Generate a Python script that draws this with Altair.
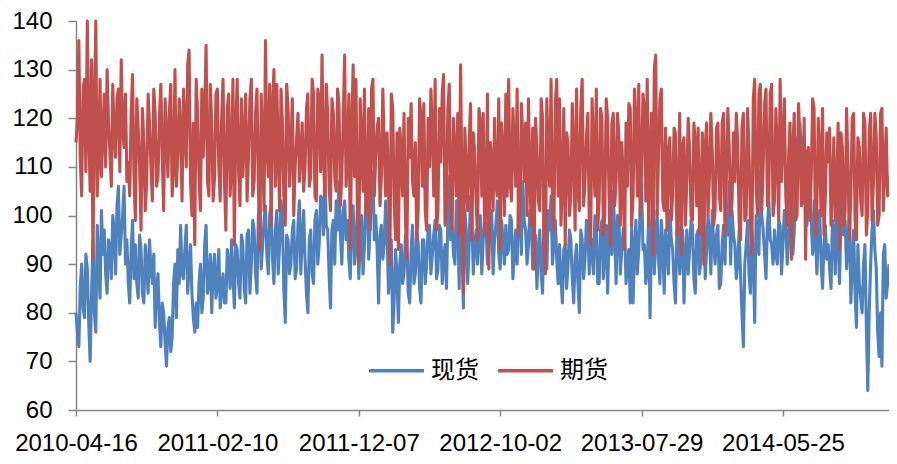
import altair as alt
import pandas as pd

START = "2010-04-16"
STEP_DAYS = 3

# 期货 (futures): readings at every other point (0, 2, 4, ...)
futures_a = [
    115,136,104,128,140,105,91,140,112,108,125,130,113,127,112,126,132,114,107,
    104,129,99,118,97,115,107,119,103,121,108,127,101,117,121,104,130,112,118,
    126,110,134,100,94,121,101,112,135,104,119,108,126,103,128,97,125,111,94,
    128,102,108,125,112,128,107,126,93,114,136,108,98,130,127,101,119,98,122,
    114,100,116,107,119,110,125,108,125,103,124,133,104,121,101,121,105,123,108,
    133,112,93,131,128,90,116,126,105,97,128,112,120,108,114,117,90,122,95,
    93,113,121,91,112,107,115,101,120,123,97,110,118,128,101,111,129,102,127,
    97,113,121,131,84,110,114,95,113,95,119,121,103,89,112,120,104,93,113,
    125,128,103,114,126,100,116,119,124,98,89,114,101,120,88,112,128,97,128,
    124,107,94,115,104,113,126,101,128,107,121,94,113,126,103,120,100,120,94,
    121,107,116,115,93,106,122,104,119,127,109,122,128,113,92,133,112,126,101,
    97,116,104,117,101,92,116,107,113,99,115,118,103,90,119,108,113,101,119,
    101,121,108,114,103,107,115,95,121,100,113,92,128,100,127,110,126,104,127,
    103,113,128,115,104,112,91,121,100,116,103,91,114,108,122,101,113,122,104,
    111,98,116,103,93,114,101,110,104,121,95,114,100,119,101,121,107,116,100,122,110,104,
]
# 期货 (futures): readings at the points in between (1, 3, 5, ...)
futures_b = [
    120,112,126,109,118,132,122,104,128,117,110,119,106,116,124,109,118,125,111,
    121,108,124,110,122,101,125,110,126,106,120,112,124,108,127,110,106,124,103,
    118,131,107,119,128,108,126,121,107,127,103,125,110,120,107,122,104,128,118,
    109,124,116,103,124,104,121,106,125,101,114,127,122,106,113,126,104,127,106,
    124,110,121,113,105,122,106,128,104,126,109,112,127,106,124,108,126,102,120,
    106,125,117,108,101,124,105,100,122,126,104,118,102,126,104,106,125,103,117,
    118,104,99,120,123,104,95,124,106,101,120,126,104,97,122,125,98,122,104,
    120,104,96,105,118,101,123,117,103,122,104,96,125,115,101,106,124,119,100,
    104,107,122,106,96,123,107,100,108,118,120,103,124,94,124,106,101,123,104,
    98,122,117,100,123,97,106,122,102,116,99,124,104,97,122,96,124,104,119,
    102,121,98,108,119,123,98,126,104,100,125,103,98,121,130,100,124,103,118,
    113,99,118,96,121,114,98,120,100,119,102,96,117,114,100,121,98,118,104,
    119,96,122,100,117,121,99,118,99,122,99,124,106,125,101,123,102,125,100,
    122,99,107,124,98,119,114,99,123,102,120,113,99,124,96,120,100,96,117,
    118,105,99,119,117,98,122,95,120,99,116,103,121,96,117,99,121,98,121,101,118,108,
]

# 现货 (spot): readings at every other point (0, 2, 4, ...)
spot_a = [
    80,73,90,79,89,70,95,76,90,101,97,84,93,100,88,106,96,106,95,
    82,99,94,83,93,82,90,95,86,77,88,73,80,69,79,75,90,93,98,
    87,98,89,84,76,77,90,83,98,86,80,92,86,81,88,82,90,95,81,
    93,83,94,82,97,90,97,84,103,94,102,88,102,86,101,94,99,78,95,
    90,99,89,103,95,91,80,97,86,101,94,103,110,97,81,99,103,107,90,
    103,99,87,102,94,87,100,94,107,98,109,100,82,98,94,97,88,76,93,
    78,94,88,95,82,98,88,94,82,95,90,98,92,99,89,97,91,85,108,
    98,90,101,111,81,97,93,99,94,90,100,95,98,93,101,95,103,89,95,
    98,93,99,92,90,101,107,97,94,99,90,85,97,84,94,101,104,94,91,
    94,82,94,90,95,82,94,80,95,91,98,93,88,98,86,99,93,84,107,
    105,86,99,93,98,90,82,82,99,93,107,94,89,79,106,94,91,99,84,
    94,101,93,82,98,93,82,97,93,98,84,97,91,99,93,96,101,90,98,
    86,98,101,107,101,94,90,88,73,94,88,97,78,94,109,97,87,103,94,
    97,90,98,94,99,95,103,97,116,119,116,103,109,99,103,88,101,85,98,
    94,85,97,104,86,104,99,94,82,97,77,86,80,94,64,90,101,89,71,69,94,86,
]
# 现货 (spot): readings at the points in between (1, 3, 5, ...)
spot_b = [
    76,85,81,92,78,84,80,98,83,92,88,95,87,97,102,92,100,90,86,
    93,87,86,96,84,94,84,89,92,85,78,82,74,77,72,86,79,86,88,
    93,84,94,79,82,86,80,94,84,92,89,83,93,85,82,93,85,88,94,
    86,96,85,96,84,99,88,100,89,99,92,100,91,97,88,103,85,96,88,
    97,87,98,88,101,84,95,88,99,90,104,96,98,88,97,90,97,96,101,
    95,91,99,90,101,95,88,103,91,105,95,93,96,91,103,84,95,82,88,
    90,86,96,84,93,86,97,85,95,86,97,88,96,87,98,86,94,99,95,
    92,103,85,94,101,86,104,88,97,96,88,99,90,100,88,98,92,99,90,
    92,100,87,97,103,92,99,90,101,89,96,93,88,100,89,97,90,99,86,
    87,93,85,97,87,91,86,97,87,99,88,95,100,86,97,87,98,96,92,
    96,100,88,97,86,93,98,93,88,101,93,86,100,95,88,101,86,94,97,
    88,95,86,97,88,97,92,88,99,87,96,88,100,87,100,88,94,96,85,
    94,90,96,90,96,87,97,80,90,99,84,92,100,92,100,92,98,95,90,
    92,99,88,101,90,100,92,108,110,112,107,98,102,92,96,97,90,94,91,
    89,99,88,95,99,96,89,101,90,84,94,83,90,77,80,97,93,76,80,92,83,90,
]

series_names = ["现货", "期货"]
series_colors = ["#4F81BD", "#C0504D"]
tick_dates = ["2010-04-16", "2011-02-10", "2011-12-07", "2012-10-02", "2013-07-29", "2014-05-25"]
y_ticks = [60, 70, 80, 90, 100, 110, 120, 130, 140]


def weave(a, b):
    out = []
    for u, v in zip(a, b):
        out.extend([u, v])
    return out


spot = weave(spot_a, spot_b)
futures = weave(futures_a, futures_b)
n = len(spot)
dates = pd.date_range(START, periods=n, freq=f"{STEP_DAYS}D")
date_str = [d.strftime("%Y-%m-%d") for d in dates]

df = pd.concat([
    pd.DataFrame({"date": date_str, "value": spot, "series": series_names[0]}),
    pd.DataFrame({"date": date_str, "value": futures, "series": series_names[1]}),
])


def ms(s):
    return int(pd.Timestamp(s, tz="UTC").timestamp() * 1000)


x_domain = [ms(START), ms(pd.Timestamp(START) + pd.Timedelta(days=STEP_DAYS * (n - 1)))]
x_ticks = [ms(d) for d in tick_dates]

color = alt.Color(
    "series:N",
    scale=alt.Scale(domain=series_names, range=series_colors),
    legend=alt.Legend(
        title=None, orient="none", direction="horizontal",
        legendX=291, legendY=320, padding=0,
        symbolType="stroke", symbolSize=3025, symbolStrokeWidth=3.5,
        labelFont="Noto Sans CJK SC", labelFontSize=24, labelColor="#000000",
        labelOffset=5, columnPadding=12,
    ),
)

x = alt.X(
    "date:T",
    scale=alt.Scale(type="utc", domain=x_domain),
    axis=alt.Axis(
        values=x_ticks, labelExpr="utcFormat(datum.value, '%Y-%m-%d')",
        tickSize=6, labelPadding=34, labelBaseline="alphabetic",
        labelOverlap=False, labelFlush=False, title=None,
    ),
)
y = alt.Y(
    "value:Q",
    scale=alt.Scale(domain=[60, 140], nice=False, zero=False),
    axis=alt.Axis(values=y_ticks, tickSize=8, labelPadding=16, title=None),
)

base = alt.Chart(df).mark_line(strokeWidth=3.1, strokeJoin="round")

blue = base.transform_filter(alt.datum.series == series_names[0]).encode(x=x, y=y, color=color)
red = base.transform_filter(alt.datum.series == series_names[1]).encode(x=x, y=y, color=color)

chart = alt.layer(blue, red).properties(
    width=813, height=389,
    autosize=alt.AutoSizeParams(type="none"),
    padding={"left": 68, "top": 13, "right": 0, "bottom": 46},
).configure_view(stroke=None).configure_axis(
    domainColor="#868686", tickColor="#868686", domainWidth=1.5, tickWidth=1.5,
    labelFont="Liberation Sans", labelFontSize=24, labelColor="#000000", grid=False,
)

chart.save("out.html", embed_options={"renderer": "svg", "actions": False})
